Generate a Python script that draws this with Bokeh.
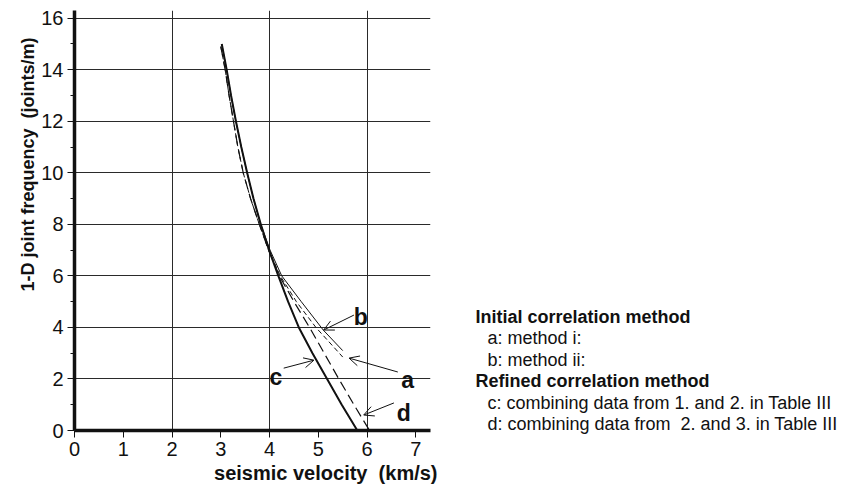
from bokeh.plotting import figure
from bokeh.layouts import row
from bokeh.models import Range1d, FixedTicker, Label, Arrow, OpenHead, Title
from bokeh.embed import file_html
from bokeh.resources import INLINE

# ---- data ----
velocity_a = [3.00, 3.09, 3.17, 3.26, 3.35, 3.46, 3.61, 3.79, 3.98, 4.22, 4.55, 4.95, 5.43, 5.50]
freq_a     = [14.9, 14.0, 13.0, 12.0, 11.0, 10.0, 9.0, 8.0, 7.0, 6.0, 5.0, 4.0, 3.0, 2.85]

velocity_b = [3.02, 3.12, 3.21, 3.31, 3.42, 3.54, 3.67, 3.82, 4.01, 4.25, 4.65, 5.06, 5.10, 5.50]
freq_b     = [15.0, 14.0, 13.0, 12.0, 11.0, 10.0, 9.0, 8.0, 7.0, 6.0, 5.0, 4.0, 3.9, 3.1]

velocity_c = [3.02, 3.12, 3.21, 3.31, 3.42, 3.54, 3.67, 3.82, 3.99, 4.18, 4.38, 4.60, 4.88, 5.18, 5.48, 5.80]
freq_c     = [15.0, 14.0, 13.0, 12.0, 11.0, 10.0, 9.0, 8.0, 7.0, 6.0, 5.0, 4.0, 3.0, 2.0, 1.0, 0.0]

velocity_d = [3.00, 3.09, 3.17, 3.26, 3.35, 3.46, 3.61, 3.79, 3.98, 4.20, 4.50, 4.82, 5.12, 5.42, 5.73, 6.05]
freq_d     = [14.9, 14.0, 13.0, 12.0, 11.0, 10.0, 9.0, 8.0, 7.0, 6.0, 5.0, 4.0, 3.0, 2.0, 1.0, 0.0]

x_ticks = [0, 1, 2, 3, 4, 5, 6, 7]
y_ticks = [0, 2, 4, 6, 8, 10, 12, 14, 16]
y_minor = [1, 3, 5, 7, 9, 11, 13, 15]
x_grid = [2, 4, 6]
y_grid = [2, 4, 6, 8, 10, 12, 14, 16]

curve_letters = ["a", "b", "c", "d"]
letter_x = [6.83, 5.87, 4.13, 6.75]
letter_y = [1.95, 4.41, 2.08, 0.69]
arrow_x0 = [6.63, 5.73, 4.29, 6.55]
arrow_y0 = [2.27, 4.48, 2.42, 1.07]
arrow_x1 = [5.63, 5.11, 4.91, 5.93]
arrow_y1 = [2.81, 3.90, 2.73, 0.60]

NB = "\u00a0"  # keeps the double spaces of the original visible in SVG
legend_lines = [
    "Initial correlation method",
    "a: method i:",
    "b: method ii:",
    "Refined correlation method",
    "c: combining data from 1. and 2. in Table III",
    "d: combining data from " + NB + "2. and 3. in Table III",
]
legend_bold = [True, False, False, True, False, False]

x_title = "seismic velocity " + NB + "(km/s)"
y_title = "1-D joint frequency " + NB + "(joints/m)"

FONT = "Liberation Sans"
INK = "#111111"

# ---------------- main chart ----------------
H = 488
p = figure(frame_width=356, frame_height=420,
           min_border_left=74, min_border_right=20,
           min_border_top=10, min_border_bottom=H - 430,
           x_range=Range1d(0, 7.3), y_range=Range1d(0, 16.3),
           output_backend="svg", toolbar_location=None)
p.outline_line_color = None
p.background_fill_color = "white"

p.xgrid.ticker = FixedTicker(ticks=x_grid)
p.ygrid.ticker = FixedTicker(ticks=y_grid)
for g in (p.xgrid, p.ygrid):
    g.grid_line_color = "#2a2a2a"
    g.grid_line_width = 1

p.xaxis.ticker = FixedTicker(ticks=x_ticks)
p.yaxis.ticker = FixedTicker(ticks=y_ticks, minor_ticks=y_minor)
for ax in (p.xaxis, p.yaxis):
    ax.axis_line_width = 3.5
    ax.axis_line_color = INK
    ax.major_tick_line_color = INK
    ax.minor_tick_line_color = INK
    ax.major_tick_in = 0
    ax.major_tick_out = 7
    ax.minor_tick_in = 0
    ax.major_label_text_font = FONT
    ax.major_label_text_font_size = "20px"
    ax.major_label_text_color = INK
    ax.major_label_standoff = 4
p.yaxis.minor_tick_out = 4
p.xaxis.minor_tick_out = 0

p.line(velocity_d, freq_d, line_color=INK, line_width=1.2, line_dash="10 5")
p.line(velocity_a, freq_a, line_color=INK, line_width=1.0, line_dash="5 3")
p.line(velocity_b, freq_b, line_color=INK, line_width=1.0)
p.line(velocity_c, freq_c, line_color=INK, line_width=2.0)

for i, t in enumerate(curve_letters):
    p.add_layout(Label(x=letter_x[i], y=letter_y[i], text=t, text_font=FONT,
                       text_font_size="23px", text_font_style="bold",
                       text_align="center", text_baseline="alphabetic",
                       text_color=INK))
    p.add_layout(Arrow(x_start=arrow_x0[i], y_start=arrow_y0[i],
                       x_end=arrow_x1[i], y_end=arrow_y1[i],
                       line_width=1, line_color=INK,
                       end=OpenHead(size=10, line_width=1, line_color=INK)))

p.add_layout(Title(text=x_title, align="right", offset=-7, standoff=2,
                   text_font=FONT, text_font_size="20px",
                   text_font_style="bold", text_color=INK), "below")
p.add_layout(Title(text=y_title, align="right", offset=27, standoff=2,
                   text_font=FONT, text_font_size="18px",
                   text_font_style="bold", text_color=INK), "left")

# ---------------- legend panel ----------------
W2 = 390
legend_x_bold = 25
legend_x_item = 37
legend_top_baseline = 306
legend_step = 21.5

q = figure(frame_width=W2, frame_height=H, min_border=0,
           x_range=Range1d(0, W2), y_range=Range1d(0, H),
           x_axis_type=None, y_axis_type=None,
           output_backend="svg", toolbar_location=None)
q.outline_line_color = None
q.xgrid.visible = False
q.ygrid.visible = False
for k, (txt, bold) in enumerate(zip(legend_lines, legend_bold)):
    q.add_layout(Label(x=legend_x_bold if bold else legend_x_item,
                       y=H - (legend_top_baseline + k * legend_step),
                       text=txt, text_font=FONT, text_font_size="18px",
                       text_font_style="bold" if bold else "normal",
                       text_align="left", text_baseline="alphabetic",
                       text_color=INK))

layout = row(p, q)
open("out.html", "w").write(file_html(layout, INLINE))
